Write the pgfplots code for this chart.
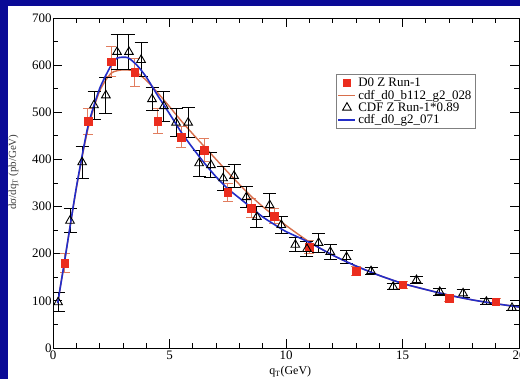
\documentclass[border=0pt]{standalone}
\usepackage{pgfplots}
\pgfplotsset{compat=1.18}
\usepackage{pgfplotstable}
\usepackage{fontspec}
\setmainfont{Liberation Serif}
\definecolor{slideblue}{RGB}{10,10,150}
\definecolor{dzero}{RGB}{235,45,30}
\definecolor{dzeroerr}{RGB}{225,125,95}
\definecolor{orangecurve}{RGB}{215,110,75}
\definecolor{bluecurve}{RGB}{35,45,200}

\pgfplotstableread{
x y e
0.5 180 20
1.5 481 28
2.5 607 32
3.5 585 30
4.5 481 27
5.5 447 22
6.5 420 25
7.5 330 20
8.5 297 20
9.5 280 16
11 214 13
13 163 9
15 134 7
17 106 7
19 98 6
}\dzerodata

\pgfplotstableread{
x y e
0.22 97 20
0.73 270 25
1.25 394 34
1.76 515 30
2.27 536 38
2.75 628 38
3.26 628 37
3.78 611 36
4.25 528 25
4.76 513 32
5.28 478 30
5.8 478 32
6.27 392 28
6.78 388 26
7.3 360 25
7.77 365 25
8.3 320 22
8.75 278 22
9.3 303 24
9.8 261 19
10.4 219 15
10.9 210 16
11.4 223 20
11.9 204 16
12.6 193 14
13.65 163 8
14.6 130 6
15.6 144 8
16.6 119 8
17.6 116 8
18.6 98 6
19.7 85 6
}\cdfdata

\pgfplotstableread{
x y
0.2 95
0.5 185
1.0 338
1.5 465
2.0 545
2.5 583
3.0 590
3.5 587
4.0 568
4.5 541
5.0 512
5.5 482
6.0 454
6.5 427
7.0 400
7.5 373
8.0 347
8.5 322
9.0 300
9.5 280
10 260
11 225
12 197
13 174
14 154
15 137
16 124
17 112
18 102
19 94
20 87
}\orangecurve

\pgfplotstableread{
x y
0.2 95
0.5 185
1.0 340
1.5 470
2.0 550
2.5 600
2.75 615
3.2 616
3.6 600
4.0 575
4.5 535
5.0 497
5.5 458
6.0 424
6.5 392
7.0 363
7.5 338
8.0 318
8.5 298
9.0 278
9.5 262
10 247
11 224
12 197
13 174
14 154
15 137
16 124
17 112
18 102
19 94
20 87
}\bluecurve

\begin{document}
\begin{tikzpicture}
\fill[slideblue] (0,0) rectangle (520bp,379bp);
\fill[white] (8bp,0) rectangle (520bp,373bp);
\begin{axis}[
  scale only axis, width=466bp, height=330bp,
  at={(53bp,31bp)}, anchor=south west,
  xmin=0, xmax=20, ymin=0, ymax=700,
  xtick={0,5,...,20}, minor xtick={1,2,...,19},
  ytick={0,100,...,700}, minor ytick={50,150,...,650},
  tick align=inside,
  major tick length=9bp, minor tick length=5bp,
  tick style={black, line width=0.8bp},
  axis line style={line width=0.9bp},
  /pgf/number format/assume math mode=true,
  ticklabel style={font=\fontsize{13}{15}\selectfont},
  xticklabel style={yshift=1bp},
  yticklabel style={xshift=2bp},
  xlabel={q\textsubscript{T}(GeV)},
  xlabel style={at={(axis description cs:0.509,-0.073)}, anchor=center, font=\fontsize{12}{14}\selectfont},
  ylabel={dσ/dq\textsubscript{T} (pb/GeV)},
  ylabel style={at={(axis description cs:-0.085,0.533)}, anchor=center, font=\fontsize{11}{13}\selectfont, black!75},
  legend style={at={(0.607,0.830)}, anchor=north west, draw=gray, line width=0.6bp,
    font=\fontsize{13}{14}\selectfont, inner sep=1.5bp, row sep=-2bp, cells={anchor=west}},
  legend cell align=left,
]
\addplot[only marks, mark=square*, mark size=3.8bp, color=dzero,
  error bars/.cd, y dir=both, y explicit,
  error bar style={color=dzeroerr, line width=1bp},
  error mark options={rotate=90, color=dzeroerr, mark size=5bp, line width=1bp}]
  table[x=x, y=y, y error=e] {\dzerodata};
\addlegendentry{D0 Z Run-1}
\addplot[orangecurve, line width=1.4bp, smooth, tension=0.4] table[x=x,y=y] {\orangecurve};
\addlegendentry{cdf\_d0\_b112\_g2\_028}
\addplot[only marks, mark=triangle, mark size=5bp, black, mark options={line width=0.9bp},
  error bars/.cd, y dir=both, y explicit,
  error bar style={black, line width=1bp},
  error mark options={rotate=90, black, mark size=6.5bp, line width=1bp}]
  table[x=x, y=y, y error=e] {\cdfdata};
\addlegendentry{CDF Z Run-1*0.89}
\addplot[bluecurve, line width=1.6bp, smooth, tension=0.4] table[x=x,y=y] {\bluecurve};
\addlegendentry{cdf\_d0\_g2\_071}
\end{axis}
\pgfresetboundingbox
\path[use as bounding box] (0,0) rectangle (520bp,379bp);
\end{tikzpicture}
\end{document}
